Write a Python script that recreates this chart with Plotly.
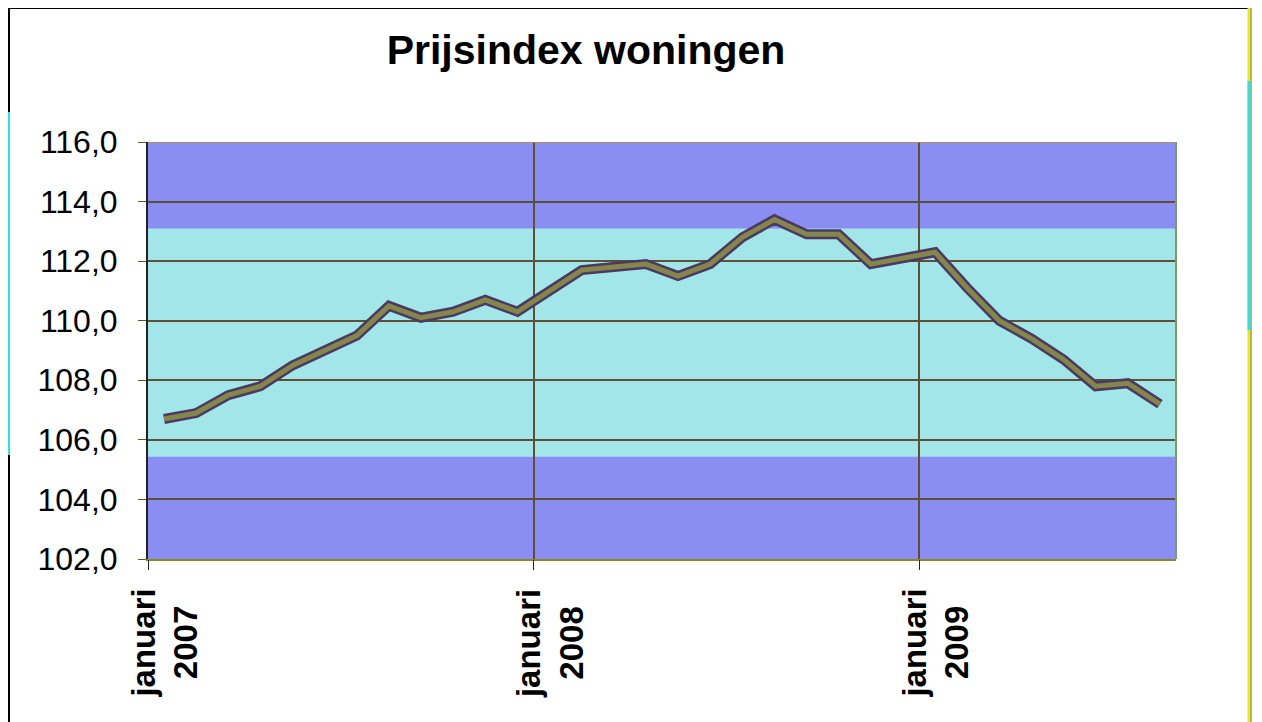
import plotly.graph_objects as go

# ---- data ----
months = [
    "jan 2007", "feb 2007", "mrt 2007", "apr 2007", "mei 2007", "jun 2007",
    "jul 2007", "aug 2007", "sep 2007", "okt 2007", "nov 2007", "dec 2007",
    "jan 2008", "feb 2008", "mrt 2008", "apr 2008", "mei 2008", "jun 2008",
    "jul 2008", "aug 2008", "sep 2008", "okt 2008", "nov 2008", "dec 2008",
    "jan 2009", "feb 2009", "mrt 2009", "apr 2009", "mei 2009", "jun 2009",
    "jul 2009", "aug 2009",
]
index_values = [
    106.7, 106.9, 107.5, 107.8, 108.5, 109.0, 109.5, 110.5, 110.1, 110.3, 110.7, 110.3,
    111.0, 111.7, 111.8, 111.9, 111.5, 111.9, 112.8, 113.4, 112.9, 112.9, 111.9, 112.1,
    112.3, 111.1, 110.0, 109.4, 108.7, 107.8, 107.9, 107.2,
]
label_months = ["jan 2007", "jan 2008", "jan 2009"]
label_texts = ["januari<br>2007", "januari<br>2008", "januari<br>2009"]
y_ticks = [102, 104, 106, 108, 110, 112, 114, 116]

# ---- styling ----
FONT = "Liberation Sans, Arial, sans-serif"
BLUE = "#8a8ef2"
CYAN = "#a2e6ea"
GRID = "#5e4f36"
band_low, band_high = 105.43, 113.1
PW, PH = 1028, 417  # plot area size in px

x_idx = list(range(len(months)))
label_idx = [months.index(m) for m in label_months]
boundary_idx = [i - 0.5 for i in label_idx]

fig = go.Figure()
fig.add_trace(go.Scatter(
    x=x_idx, y=index_values, mode="lines",
    line=dict(color="#4a3a62", width=10), hoverinfo="skip", showlegend=False,
))
fig.add_trace(go.Scatter(
    x=x_idx, y=index_values, mode="lines", text=months,
    line=dict(color="#86864c", width=5), showlegend=False,
))
fig.add_trace(go.Scatter(x=[boundary_idx[0]], y=[y_ticks[0]], xaxis="x2",
                         mode="markers", marker=dict(opacity=0), hoverinfo="skip",
                         showlegend=False))

xr = [-0.5, len(months) - 0.5]

annotations = [
    dict(x=i, xref="x", y=0, yref="paper", yshift=-28, yanchor="top", xanchor="center",
         text=t, textangle=-90, showarrow=False, align="center",
         font=dict(family=FONT, size=33, color="black", weight="bold"))
    for i, t in zip(label_idx, label_texts)
]


def px(dx):
    return dx / PW


def py(dy):
    return dy / PH


fig.update_layout(
    width=1262, height=722,
    margin=dict(l=140, r=94, t=134, b=171),
    paper_bgcolor="white",
    plot_bgcolor=BLUE,
    separators=",.",
    title=dict(text="Prijsindex woningen", x=578 / 1262, xref="container", xanchor="center",
               y=1 - 42 / 722, yref="container", yanchor="middle",
               font=dict(family=FONT, size=41, color="black", weight="bold")),
    xaxis=dict(range=xr, showticklabels=False, showgrid=False, ticks="", zeroline=False,
               showline=True, linecolor="#8a8a20", linewidth=2),
    xaxis2=dict(range=xr, overlaying="x", side="bottom", tickvals=boundary_idx,
                showticklabels=False, showgrid=True, gridcolor=GRID, gridwidth=1.5,
                ticks="outside", ticklen=10, tickcolor="#222", zeroline=False),
    yaxis=dict(range=[102, 116], tickvals=y_ticks, tickformat=".1f",
               showgrid=True, gridcolor=GRID, gridwidth=1.5, zeroline=False,
               ticks="outside", ticklen=8, tickcolor="#5a5a20",
               showline=True, linecolor="#222", linewidth=2,
               tickfont=dict(family=FONT, size=32, color="black"),
               ticklabelstandoff=14),
    annotations=annotations,
    shapes=[
        dict(type="rect", xref="paper", yref="y", x0=0, x1=1, y0=band_low, y1=band_high,
             fillcolor=CYAN, line=dict(width=0), layer="below"),
        dict(type="line", xref="paper", yref="y", x0=0, x1=1, y0=116, y1=116,
             line=dict(color="#c08a30", width=1.5)),
        dict(type="line", xref="paper", yref="paper", x0=1, x1=1, y0=0, y1=1,
             line=dict(color="#7aa060", width=2)),
        # outer chart frame
        dict(type="line", xref="paper", yref="paper", x0=px(-139), x1=px(1101),
             y0=1 + py(134), y1=1 + py(134), line=dict(color="black", width=2)),
        dict(type="line", xref="paper", yref="paper", x0=px(-139), x1=px(-139),
             y0=1 + py(134), y1=py(-170), line=dict(color="black", width=2)),
        dict(type="line", xref="paper", yref="paper", x0=px(-139), x1=px(-139),
             y0=1 + py(30), y1=py(559 - 455), line=dict(color="#30e0e8", width=2)),
        dict(type="line", xref="paper", yref="paper", x0=px(1101), x1=px(1101),
             y0=1 + py(134), y1=py(-170), line=dict(color="#e8e820", width=3)),
        dict(type="line", xref="paper", yref="paper", x0=px(1103), x1=px(1103),
             y0=1 + py(134), y1=py(-170), line=dict(color="#707000", width=1)),
        dict(type="line", xref="paper", yref="paper", x0=px(1101), x1=px(1101),
             y0=py(559 - 81), y1=py(559 - 330), line=dict(color="#30e0e8", width=3)),
    ],
)

fig.write_html("out.html")
